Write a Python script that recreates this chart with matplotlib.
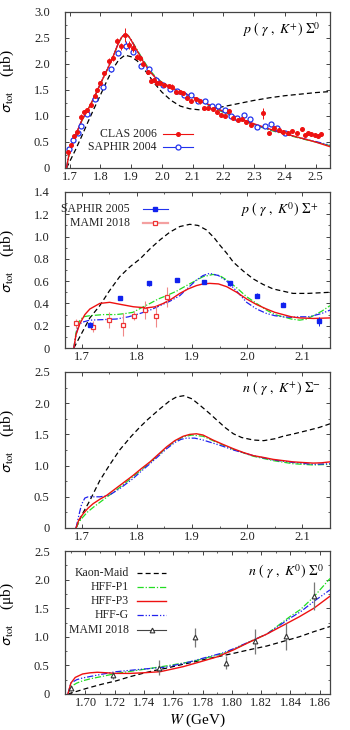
import matplotlib
matplotlib.use('Agg')
import matplotlib.pyplot as plt
from matplotlib.ticker import MultipleLocator, FuncFormatter

plt.rcParams['font.family'] = ['Liberation Serif', 'DejaVu Serif']
plt.rcParams['mathtext.fontset'] = 'stix'

# ---------------- Panel 1 : p(gamma,K+)Sigma0 ----------------
p1_km_w = [1.690, 1.70, 1.72, 1.74, 1.76, 1.78, 1.80, 1.82, 1.84, 1.86, 1.88, 1.90, 1.92, 1.94, 1.96,
           1.98, 2.00, 2.03, 2.06, 2.09, 2.12, 2.15, 2.20, 2.25, 2.30, 2.35, 2.40, 2.45, 2.50, 2.547]
p1_km_s = [0.0, 0.12, 0.36, 0.62, 0.89, 1.15, 1.40, 1.66, 1.90, 2.08, 2.17, 2.14, 2.06, 1.92, 1.76,
           1.60, 1.46, 1.30, 1.19, 1.14, 1.12, 1.13, 1.18, 1.24, 1.30, 1.35, 1.39, 1.42, 1.45, 1.47]
p1_w = [1.690, 1.696, 1.70, 1.71, 1.72, 1.74, 1.76, 1.78, 1.80, 1.82, 1.84, 1.86, 1.87, 1.88, 1.89, 1.90,
        1.92, 1.94, 1.96, 1.98, 2.00, 2.04, 2.08, 2.12, 2.16, 2.20, 2.25, 2.30, 2.35, 2.40, 2.45, 2.50, 2.547]
p1_p3_s = [0.0, 0.20, 0.30, 0.48, 0.64, 0.92, 1.13, 1.36, 1.62, 1.86, 2.12, 2.42, 2.52, 2.57, 2.55, 2.46,
           2.25, 2.04, 1.86, 1.73, 1.64, 1.52, 1.42, 1.31, 1.20, 1.09, 0.96, 0.85, 0.75, 0.66, 0.58, 0.50, 0.41]
p1_p1_s = [0.0, 0.19, 0.29, 0.47, 0.63, 0.91, 1.12, 1.35, 1.61, 1.86, 2.12, 2.41, 2.51, 2.56, 2.55, 2.47,
           2.27, 2.07, 1.89, 1.75, 1.65, 1.52, 1.41, 1.30, 1.18, 1.07, 0.94, 0.83, 0.73, 0.65, 0.57, 0.50, 0.43]
p1_g_s = [0.0, 0.21, 0.31, 0.49, 0.65, 0.92, 1.13, 1.36, 1.62, 1.87, 2.13, 2.42, 2.53, 2.57, 2.55, 2.46,
          2.25, 2.05, 1.87, 1.74, 1.64, 1.52, 1.42, 1.31, 1.19, 1.08, 0.95, 0.84, 0.74, 0.66, 0.58, 0.51, 0.44]

clas_w = [1.695, 1.705, 1.715, 1.725, 1.737, 1.747, 1.758, 1.770, 1.781, 1.790, 1.800, 1.813, 1.827,
          1.841, 1.853, 1.866, 1.879, 1.894, 1.906, 1.918, 1.930, 1.940, 1.955, 1.965, 1.975, 1.985,
          1.995, 2.008, 2.022, 2.034, 2.046, 2.058, 2.070, 2.083, 2.096, 2.110, 2.124, 2.138, 2.151,
          2.165, 2.178, 2.191, 2.205, 2.218, 2.231, 2.248, 2.262, 2.275, 2.290, 2.330, 2.350, 2.365,
          2.380, 2.395, 2.410, 2.425, 2.440, 2.455, 2.467, 2.476, 2.486, 2.497, 2.508, 2.518]
clas_s = [0.30, 0.45, 0.62, 0.70, 0.99, 1.07, 1.12, 1.22, 1.38, 1.50, 1.63, 1.82, 2.06,
          2.12, 2.44, 2.34, 2.56, 2.37, 2.30, 2.14, 2.11, 2.00, 1.85, 1.68, 1.70, 1.63,
          1.63, 1.60, 1.57, 1.56, 1.47, 1.47, 1.44, 1.34, 1.29, 1.33, 1.28, 1.15, 1.15,
          1.13, 1.07, 1.02, 1.00, 1.10, 0.97, 0.92, 0.94, 0.89, 0.83, 1.05, 0.68, 0.76,
          0.73, 0.70, 0.68, 0.71, 0.68, 0.75, 0.64, 0.67, 0.65, 0.64, 0.62, 0.65]
clas_e = [0.03, 0.03, 0.03, 0.03, 0.05, 0.04, 0.03, 0.03, 0.03, 0.03, 0.04, 0.04, 0.05,
          0.06, 0.06, 0.07, 0.14, 0.08, 0.06, 0.05, 0.05, 0.04, 0.04, 0.05, 0.04, 0.04,
          0.04, 0.03, 0.03, 0.05, 0.03, 0.03, 0.03, 0.03, 0.03, 0.03, 0.05, 0.03, 0.03,
          0.03, 0.03, 0.03, 0.03, 0.03, 0.03, 0.03, 0.03, 0.03, 0.03, 0.10, 0.03, 0.03,
          0.03, 0.03, 0.03, 0.03, 0.03, 0.04, 0.03, 0.03, 0.03, 0.03, 0.03, 0.03]

saphir04_w = [1.697, 1.711, 1.726, 1.738, 1.756, 1.783, 1.808, 1.834, 1.859, 1.884, 1.907, 1.931,
              1.958, 1.981, 2.003, 2.026, 2.048, 2.072, 2.094, 2.118, 2.140, 2.162, 2.183, 2.205,
              2.226, 2.245, 2.266, 2.288, 2.309, 2.334, 2.356, 2.374, 2.399]
saphir04_s = [0.36, 0.53, 0.68, 0.81, 1.04, 1.33, 1.55, 1.90, 2.22, 2.35, 2.24, 1.96,
              1.90, 1.69, 1.60, 1.52, 1.49, 1.40, 1.40, 1.28, 1.29, 1.19, 1.19, 1.12,
              1.00, 0.97, 1.02, 0.94, 0.78, 0.81, 0.84, 0.76, 0.67]
saphir04_e = [0.03, 0.03, 0.03, 0.03, 0.03, 0.04, 0.04, 0.04, 0.05, 0.09, 0.05, 0.04,
              0.04, 0.04, 0.03, 0.03, 0.03, 0.03, 0.03, 0.03, 0.03, 0.03, 0.03, 0.03,
              0.03, 0.03, 0.03, 0.03, 0.03, 0.03, 0.03, 0.03, 0.03]

# ---------------- Panel 2 : p(gamma,K0)Sigma+ ----------------
p2_km_w = [1.686, 1.70, 1.715, 1.733, 1.75, 1.769, 1.788, 1.806, 1.824, 1.842, 1.860, 1.878, 1.896,
           1.911, 1.926, 1.940, 1.951, 1.963, 1.975, 1.993, 2.011, 2.029, 2.047, 2.065, 2.083, 2.11, 2.15]
p2_km_s = [0.0, 0.13, 0.27, 0.38, 0.51, 0.64, 0.73, 0.80, 0.89, 0.97, 1.04, 1.09, 1.11,
           1.10, 1.06, 0.99, 0.92, 0.85, 0.77, 0.69, 0.62, 0.57, 0.53, 0.51, 0.49, 0.49, 0.50]
p2_p3_w = [1.686, 1.690, 1.697, 1.706, 1.715, 1.733, 1.751, 1.772, 1.794, 1.818, 1.833, 1.848, 1.863,
           1.878, 1.893, 1.908, 1.920, 1.932, 1.948, 1.963, 1.981, 1.999, 2.017, 2.035, 2.050, 2.065,
           2.080, 2.095, 2.12, 2.15]
p2_p3_s = [0.0, 0.12, 0.22, 0.30, 0.35, 0.40, 0.41, 0.39, 0.37, 0.36, 0.37, 0.40, 0.44,
           0.49, 0.53, 0.56, 0.575, 0.58, 0.575, 0.55, 0.50, 0.44, 0.39, 0.35, 0.32, 0.30,
           0.28, 0.27, 0.265, 0.27]
p2_p1_w = [1.686, 1.690, 1.696, 1.703, 1.715, 1.740, 1.763, 1.780, 1.793, 1.808, 1.824, 1.839, 1.854,
           1.872, 1.890, 1.905, 1.920, 1.938, 1.950, 1.963, 1.981, 1.999, 2.017, 2.035, 2.050, 2.065,
           2.080, 2.095, 2.108, 2.120, 2.135, 2.15]
p2_p1_s = [0.0, 0.14, 0.24, 0.28, 0.29, 0.30, 0.30, 0.31, 0.32, 0.36, 0.40, 0.44, 0.47,
           0.51, 0.56, 0.60, 0.64, 0.66, 0.65, 0.61, 0.54, 0.46, 0.40, 0.34, 0.30, 0.28,
           0.26, 0.25, 0.26, 0.29, 0.33, 0.38]
p2_g_w = [1.686, 1.690, 1.694, 1.700, 1.715, 1.740, 1.763, 1.785, 1.806, 1.824, 1.842, 1.860, 1.878,
          1.893, 1.908, 1.920, 1.932, 1.948, 1.963, 1.981, 1.999, 2.017, 2.035, 2.050, 2.065, 2.080,
          2.095, 2.110, 2.120, 2.135, 2.15]
p2_g_s = [0.0, 0.12, 0.19, 0.23, 0.25, 0.255, 0.26, 0.28, 0.31, 0.34, 0.38, 0.42, 0.47,
          0.54, 0.61, 0.65, 0.67, 0.65, 0.60, 0.51, 0.41, 0.35, 0.31, 0.29, 0.28, 0.275,
          0.28, 0.28, 0.29, 0.31, 0.34]

saphir05_w = [1.716, 1.769, 1.822, 1.872, 1.922, 1.969, 2.017, 2.064, 2.130]
saphir05_s = [0.21, 0.45, 0.58, 0.61, 0.59, 0.58, 0.47, 0.39, 0.24]
saphir05_e = [0.02, 0.02, 0.02, 0.02, 0.02, 0.02, 0.02, 0.02, 0.04]
mami18a_w = [1.690, 1.720, 1.750, 1.775, 1.795, 1.815, 1.835, 1.855]
mami18a_s = [0.22, 0.19, 0.25, 0.21, 0.29, 0.34, 0.29, 0.46]
mami18a_e = [0.04, 0.05, 0.07, 0.10, 0.04, 0.08, 0.10, 0.09]

# ---------------- Panel 3 : n(gamma,K+)Sigma- ----------------
p3_km_w = [1.690, 1.700, 1.715, 1.733, 1.750, 1.769, 1.790, 1.806, 1.820, 1.842, 1.860, 1.872, 1.885,
           1.900, 1.914, 1.930, 1.945, 1.960, 1.975, 1.990, 2.011, 2.030, 2.050, 2.065, 2.085, 2.108,
           2.130, 2.150]
p3_km_s = [0.0, 0.20, 0.44, 0.76, 1.00, 1.25, 1.47, 1.62, 1.74, 1.91, 2.04, 2.10, 2.12,
           2.07, 1.97, 1.85, 1.73, 1.61, 1.51, 1.45, 1.41, 1.40, 1.43, 1.47, 1.51, 1.56,
           1.61, 1.67]
p3_p3_w = [1.690, 1.695, 1.703, 1.712, 1.721, 1.733, 1.745, 1.757, 1.769, 1.781, 1.793, 1.808, 1.824,
           1.839, 1.854, 1.869, 1.884, 1.896, 1.908, 1.920, 1.938, 1.956, 1.975, 1.993, 2.011, 2.030,
           2.047, 2.065, 2.083, 2.100, 2.120, 2.135, 2.150]
p3_p3_s = [0.0, 0.13, 0.23, 0.32, 0.39, 0.46, 0.52, 0.60, 0.68, 0.76, 0.84, 0.95, 1.06,
           1.18, 1.30, 1.40, 1.47, 1.50, 1.51, 1.49, 1.41, 1.34, 1.27, 1.21, 1.16, 1.13,
           1.10, 1.08, 1.06, 1.05, 1.04, 1.045, 1.06]
p3_p1_w = [1.690, 1.695, 1.700, 1.710, 1.721, 1.733, 1.745, 1.769, 1.793, 1.824, 1.854, 1.869, 1.884,
           1.900, 1.920, 1.938, 1.956, 1.975, 2.011, 2.047, 2.083, 2.120, 2.150]
p3_p1_s = [0.0, 0.09, 0.15, 0.25, 0.33, 0.41, 0.49, 0.65, 0.82, 1.05, 1.29, 1.39, 1.46,
           1.49, 1.47, 1.40, 1.33, 1.26, 1.15, 1.08, 1.03, 1.01, 1.02]
p3_g_w = [1.690, 1.695, 1.700, 1.706, 1.712, 1.722, 1.733, 1.742, 1.751, 1.760, 1.769, 1.781, 1.793,
          1.808, 1.824, 1.839, 1.854, 1.869, 1.880, 1.890, 1.905, 1.920, 1.938, 1.956, 1.975, 2.011,
          2.047, 2.083, 2.120, 2.150]
p3_g_s = [0.0, 0.20, 0.38, 0.48, 0.50, 0.50, 0.50, 0.51, 0.53, 0.58, 0.63, 0.71, 0.79,
          0.91, 1.03, 1.15, 1.27, 1.37, 1.42, 1.44, 1.44, 1.41, 1.36, 1.31, 1.25, 1.16,
          1.09, 1.05, 1.02, 1.03]

# ---------------- Panel 4 : n(gamma,K0)Sigma0 ----------------
p4_km_w = [1.688, 1.701, 1.711, 1.721, 1.730, 1.739, 1.747, 1.755, 1.765, 1.774, 1.782, 1.790, 1.801,
           1.813, 1.824, 1.835, 1.846, 1.856, 1.867]
p4_km_s = [0.0, 0.10, 0.17, 0.23, 0.30, 0.36, 0.41, 0.45, 0.51, 0.56, 0.61, 0.65, 0.71,
           0.78, 0.84, 0.92, 1.00, 1.09, 1.18]
p4_p3_w = [1.688, 1.690, 1.693, 1.698, 1.703, 1.708, 1.715, 1.721, 1.730, 1.739, 1.751, 1.760, 1.767,
           1.778, 1.790, 1.801, 1.813, 1.824, 1.835, 1.846, 1.856, 1.867]
p4_p3_s = [0.0, 0.19, 0.29, 0.35, 0.37, 0.38, 0.37, 0.36, 0.36, 0.37, 0.39, 0.44, 0.48,
           0.56, 0.65, 0.77, 0.92, 1.05, 1.20, 1.35, 1.50, 1.71]
p4_p1_w = [1.688, 1.690, 1.694, 1.698, 1.704, 1.710, 1.721, 1.737, 1.755, 1.771, 1.778, 1.794, 1.801,
           1.817, 1.824, 1.840, 1.847, 1.856, 1.867]
p4_p1_s = [0.0, 0.13, 0.19, 0.23, 0.27, 0.30, 0.36, 0.42, 0.49, 0.56, 0.60, 0.71, 0.78,
           0.97, 1.05, 1.36, 1.48, 1.70, 2.02]
p4_g_w = [1.688, 1.690, 1.694, 1.698, 1.704, 1.710, 1.721, 1.737, 1.755, 1.771, 1.778, 1.794, 1.801,
          1.817, 1.824, 1.840, 1.847, 1.856, 1.867]
p4_g_s = [0.0, 0.19, 0.25, 0.28, 0.31, 0.34, 0.39, 0.43, 0.47, 0.56, 0.61, 0.72, 0.79,
          0.97, 1.05, 1.33, 1.44, 1.62, 1.82]
mami18b_w = [1.690, 1.719, 1.750, 1.775, 1.796, 1.816, 1.837, 1.856]
mami18b_s = [0.10, 0.33, 0.46, 0.99, 0.55, 0.92, 1.01, 1.71]
mami18b_e = [0.04, 0.06, 0.13, 0.17, 0.12, 0.22, 0.24, 0.25]

# ---------------- styles ----------------
KM = dict(color='black', lw=0.9, dashes=(4.0, 2.5))
P1 = dict(color='#22dd22', lw=0.9, dashes=(5.0, 1.5, 1.0, 1.5))
P3 = dict(color='#ee1111', lw=1.0)
G = dict(color='#2222ee', lw=0.9, dashes=(5.0, 1.5, 1.0, 1.5, 1.0, 1.5))
SPINE = '#444444'

fig = plt.figure(figsize=(3.5, 7.3), dpi=100)
L, Wd = 65 / 350, 265 / 350
ax1 = fig.add_axes([L, 1 - 168 / 730, Wd, 156 / 730])
ax2 = fig.add_axes([L, 1 - 348 / 730, Wd, 156 / 730])
ax3 = fig.add_axes([L, 1 - 528 / 730, Wd, 156 / 730])
ax4 = fig.add_axes([L, 1 - 694 / 730, Wd, 143 / 730])


def fmt1(v, pos):
    return '0' if abs(v) < 1e-9 else f'{v:.1f}'


def style(ax, xlim, ylim, xmaj, xmin, ymaj, ymin, xdec):
    ax.set_xlim(*xlim)
    ax.set_ylim(*ylim)
    ax.xaxis.set_major_locator(MultipleLocator(xmaj))
    if xmin:
        ax.xaxis.set_minor_locator(MultipleLocator(xmin))
    ax.yaxis.set_major_locator(MultipleLocator(ymaj))
    ax.yaxis.set_minor_locator(MultipleLocator(ymin))
    ax.yaxis.set_major_formatter(FuncFormatter(fmt1))
    ax.xaxis.set_major_formatter(FuncFormatter(lambda v, p: f'{v:.{xdec}f}'))
    ax.tick_params(which='both', direction='in', top=True, right=True, color=SPINE,
                   labelcolor='#222222', labelsize=9)
    ax.tick_params(which='major', length=3.2, width=0.7)
    ax.tick_params(which='minor', length=1.7, width=0.6)
    ax.tick_params(axis='y', pad=11)
    ax.tick_params(axis='x', pad=2)
    for s in ax.spines.values():
        s.set_color(SPINE)
        s.set_linewidth(0.9)
    ax.set_ylabel(r'$\mathsf{\sigma}_{\mathrm{tot}}$    (μb)', fontsize=11)
    ax.yaxis.set_label_coords(-0.185, 0.56)


def curves(ax, km, p1, p3, g):
    ax.plot(*km, **KM, zorder=2)
    ax.plot(*p1, **P1, zorder=3)
    ax.plot(*g, **G, zorder=3)
    ax.plot(*p3, **P3, zorder=3)


def legend_rows(ax, rows, xtext, x0, x1, fs=8.5):
    for label, y, lkw, mkw in rows:
        ax.text(xtext, y, label, transform=ax.transAxes, ha='right', va='center', fontsize=fs,
                color='#222222')
        ax.plot([x0, x1], [y, y], transform=ax.transAxes, clip_on=False, **lkw)
        if mkw:
            ax.plot([(x0 + x1) / 2], [y], transform=ax.transAxes, clip_on=False, ls='none', **mkw)


# Panel 1
style(ax1, (1.685, 2.547), (0, 3.0), 0.1, None, 0.5, 0.25, 1)
curves(ax1, (p1_km_w, p1_km_s), (p1_w, p1_p1_s), (p1_w, p1_p3_s), (p1_w, p1_g_s))
ax1.errorbar(saphir04_w, saphir04_s, yerr=saphir04_e, fmt='o', ms=3.6, mfc='white', mec='#2233ee',
             mew=0.9, ecolor='#2233ee', elinewidth=0.7, capsize=0, zorder=5)
ax1.errorbar(clas_w, clas_s, yerr=clas_e, fmt='o', ms=2.6, color='#ee1111', ecolor='#ee1111',
             elinewidth=0.7, capsize=0, zorder=6)
ax1.text(0.965, 0.885, r'$p\ (\ \gamma\ ,\ K^{+})\ \Sigma^{0}$', transform=ax1.transAxes,
         ha='right', va='center', fontsize=10)
legend_rows(ax1, [
    ('CLAS 2006', 0.218, dict(color='#ee1111', lw=0.8), dict(marker='o', ms=2.6, color='#ee1111')),
    ('SAPHIR 2004', 0.135, dict(color='#2233ee', lw=0.8),
     dict(marker='o', ms=3.6, mfc='white', mec='#2233ee', mew=0.9)),
], 0.347, 0.370, 0.482)

# Panel 2
style(ax2, (1.67, 2.15), (0, 1.4), 0.1, 0.05, 0.2, 0.1, 1)
curves(ax2, (p2_km_w, p2_km_s), (p2_p1_w, p2_p1_s), (p2_p3_w, p2_p3_s), (p2_g_w, p2_g_s))
ax2.errorbar(mami18a_w, mami18a_s, yerr=mami18a_e, fmt='s', ms=3.2, mfc='white', mec='#ee3333',
             mew=0.9, ecolor='#f08888', elinewidth=0.8, capsize=0, zorder=5)
ax2.errorbar(saphir05_w, saphir05_s, yerr=saphir05_e, fmt='s', ms=3.0, color='#1122ee',
             ecolor='#1122ee', elinewidth=0.7, capsize=0, zorder=6)
ax2.text(0.955, 0.885, r'$p\ (\ \gamma\ ,\ K^{0})\ \Sigma^{+}$', transform=ax2.transAxes,
         ha='right', va='center', fontsize=10)
legend_rows(ax2, [
    ('SAPHIR 2005', 0.889, dict(color='#2233ee', lw=0.8), dict(marker='s', ms=3.0, color='#1122ee')),
    ('MAMI 2018', 0.800, dict(color='#f4a0a0', lw=1.6),
     dict(marker='s', ms=3.2, mfc='white', mec='#ee3333', mew=0.9)),
], 0.245, 0.294, 0.389)

# Panel 3
style(ax3, (1.67, 2.15), (0, 2.5), 0.1, 0.05, 0.5, 0.25, 1)
curves(ax3, (p3_km_w, p3_km_s), (p3_p1_w, p3_p1_s), (p3_p3_w, p3_p3_s), (p3_g_w, p3_g_s))
ax3.text(0.965, 0.895, r'$n\ (\ \gamma\ ,\ K^{+})\ \Sigma^{-}$', transform=ax3.transAxes,
         ha='right', va='center', fontsize=10)

# Panel 4
style(ax4, (1.686, 1.867), (0, 2.5), 0.02, 0.01, 0.5, 0.25, 2)
curves(ax4, (p4_km_w, p4_km_s), (p4_p1_w, p4_p1_s), (p4_p3_w, p4_p3_s), (p4_g_w, p4_g_s))
ax4.errorbar(mami18b_w, mami18b_s, yerr=mami18b_e, fmt='^', ms=3.4, mfc='white', mec='#333333',
             mew=0.8, ecolor='#777777', elinewidth=0.9, capsize=0, zorder=6)
ax4.text(0.975, 0.855, r'$n\ (\ \gamma\ ,\ K^{0})\ \Sigma^{0}$', transform=ax4.transAxes,
         ha='right', va='center', fontsize=10)
legend_rows(ax4, [
    ('Kaon-Maid', 0.844, KM, None),
    ('HFF-P1', 0.750, P1, None),
    ('HFF-P3', 0.650, P3, None),
    ('HFF-G', 0.552, G, None),
    ('MAMI 2018', 0.448, dict(color='#444444', lw=0.8),
     dict(marker='^', ms=3.4, mfc='white', mec='#333333', mew=0.8)),
], 0.242, 0.270, 0.383)
ax4.set_xlabel(r'$W$ (GeV)', fontsize=11, labelpad=2)

fig.savefig('out.png', dpi=100)
